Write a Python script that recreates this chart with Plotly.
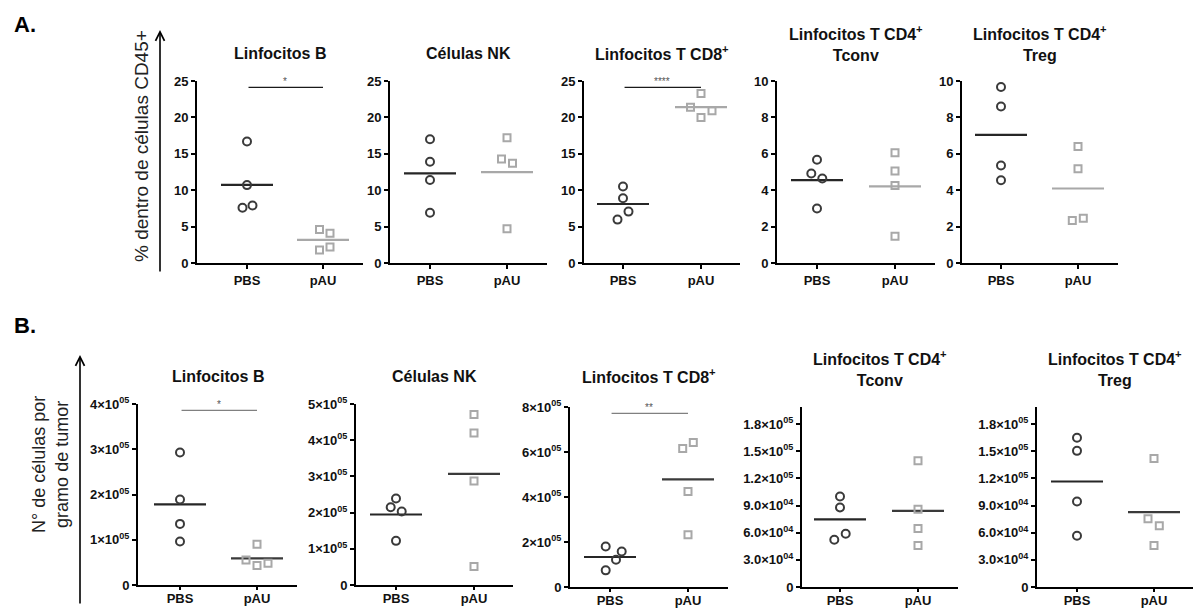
import plotly.graph_objects as go

W, H = 1194, 608
FONT = "Liberation Sans, Arial, sans-serif"

groups = ["PBS", "pAU"]

# ---- A: percentage within CD45+ cells ----
a_titles = ["Linfocitos B", "Células NK", "Linfocitos T CD8<sup>+</sup>",
            "Linfocitos T CD4<sup>+</sup><br>Tconv", "Linfocitos T CD4<sup>+</sup><br>Treg"]
a_b_pbs = [16.7, 10.7, 7.9, 7.6]
a_b_pau = [4.6, 4.1, 2.2, 1.8]
a_nk_pbs = [17.0, 13.9, 11.4, 6.9]
a_nk_pau = [17.2, 14.3, 13.7, 4.7]
a_cd8_pbs = [10.5, 8.9, 7.06, 5.96]
a_cd8_pau = [23.3, 21.4, 20.9, 20.0]
a_tconv_pbs = [5.67, 4.92, 4.64, 2.99]
a_tconv_pau = [6.06, 5.05, 4.26, 1.47]
a_treg_pbs = [9.67, 8.6, 5.36, 4.55]
a_treg_pau = [6.4, 5.18, 2.46, 2.33]
a_sig = ["*", "", "****", "", ""]
a_ymax = [25, 25, 25, 10, 10]
a_tick_step = [5, 5, 5, 2, 2]

# ---- B: cells per gram of tumour ----
b_titles = a_titles
b_b_pbs = [2.93e5, 1.89e5, 1.35e5, 0.96e5]
b_b_pau = [0.90e5, 0.55e5, 0.48e5, 0.43e5]
b_nk_pbs = [2.39e5, 2.15e5, 2.03e5, 1.22e5]
b_nk_pau = [4.71e5, 4.20e5, 2.87e5, 0.51e5]
b_cd8_pbs = [1.80e5, 1.58e5, 1.21e5, 0.74e5]
b_cd8_pau = [6.42e5, 6.16e5, 4.24e5, 2.32e5]
b_tconv_pbs = [1.00e5, 0.879e5, 0.588e5, 0.522e5]
b_tconv_pau = [1.397e5, 0.86e5, 0.647e5, 0.46e5]
b_treg_pbs = [1.65e5, 1.505e5, 0.945e5, 0.566e5]
b_treg_pau = [1.42e5, 0.754e5, 0.677e5, 0.46e5]
b_sig = ["*", "", "**", "", ""]
b_ymax = [4e5, 5e5, 8e5, 1.99e5, 1.99e5]
b_tickvals = [
    [0, 1e5, 2e5, 3e5, 4e5],
    [0, 1e5, 2e5, 3e5, 4e5, 5e5],
    [0, 2e5, 4e5, 6e5, 8e5],
    [0, 3e4, 6e4, 9e4, 1.2e5, 1.5e5, 1.8e5],
    [0, 3e4, 6e4, 9e4, 1.2e5, 1.5e5, 1.8e5],
]
b_ticktext = [
    ["0", "1×10<sup>05</sup>", "2×10<sup>05</sup>", "3×10<sup>05</sup>", "4×10<sup>05</sup>"],
    ["0", "1×10<sup>05</sup>", "2×10<sup>05</sup>", "3×10<sup>05</sup>", "4×10<sup>05</sup>", "5×10<sup>05</sup>"],
    ["0", "2×10<sup>05</sup>", "4×10<sup>05</sup>", "6×10<sup>05</sup>", "8×10<sup>05</sup>"],
    ["0", "3.0×10<sup>04</sup>", "6.0×10<sup>04</sup>", "9.0×10<sup>04</sup>",
     "1.2×10<sup>05</sup>", "1.5×10<sup>05</sup>", "1.8×10<sup>05</sup>"],
    ["0", "3.0×10<sup>04</sup>", "6.0×10<sup>04</sup>", "9.0×10<sup>04</sup>",
     "1.2×10<sup>05</sup>", "1.5×10<sup>05</sup>", "1.8×10<sup>05</sup>"],
]

# Horizontal spread (px) used to keep overlapping dots apart
a_spread = [([0, 0, 5.5, -4.5], [-3.5, 7, 7, -3.5]),
            ([0, 0, 0, 0], [0, -5.5, 5.5, 0]),
            ([0, 0, 5.5, -5.5], [0, -10.5, 11, 0]),
            ([0, -5.7, 5.3, 0], [0, 0, 0, 0]),
            ([0, 0, 0, 0], [0, 0, 5.3, -5.7])]
b_spread = [([0, 0, 0, 0], [0, -11, 11, 0]),
            ([0, -5.3, 5.7, 0], [0, 0, 0, 0]),
            ([-4.3, 11.7, 6, -4.3], [5.3, -5.3, 0, 0]),
            ([0, 0, 5.7, -5.7], [0, 0, 0, 0]),
            ([0, 0, 0, 0], [0, -6, 5.3, 0])]

a_data = [(a_b_pbs, a_b_pau), (a_nk_pbs, a_nk_pau), (a_cd8_pbs, a_cd8_pau),
          (a_tconv_pbs, a_tconv_pau), (a_treg_pbs, a_treg_pau)]
b_data = [(b_b_pbs, b_b_pau), (b_nk_pbs, b_nk_pau), (b_cd8_pbs, b_cd8_pau),
          (b_tconv_pbs, b_tconv_pau), (b_treg_pbs, b_treg_pau)]

# Pixel frame of each panel: (y-axis x, PBS x, pAU x, x-axis end, baseline y, top y)
a_frames = [(197, 247, 323, 363, 263, 81), (390, 430, 507, 547, 263, 81),
            (584, 623, 701, 740, 263, 81), (777, 817, 895, 935, 263, 81),
            (962, 1001, 1078, 1118, 263, 81)]
b_frames = [(138, 180, 257, 297, 585, 404), (356, 396, 474, 513, 585, 404),
            (570, 610, 688, 728, 587, 407), (802, 840, 918, 958, 587, 407),
            (1037, 1077, 1154, 1193, 587, 407)]

DARK = "#3a3a3a"
LIGHT = "#a8a8a8"

fig = go.Figure()
layout = dict(width=W, height=H, margin=dict(l=0, r=0, t=0, b=0),
              paper_bgcolor="white", plot_bgcolor="white", showlegend=False,
              font=dict(family=FONT, color="black"))
annotations = []

panels = []
for i in range(5):
    panels.append(dict(row="A", title=a_titles[i], data=a_data[i], spread=a_spread[i],
                       frame=a_frames[i], ymax=a_ymax[i],
                       tickvals=list(range(0, a_ymax[i] + 1, a_tick_step[i])),
                       ticktext=[str(v) for v in range(0, a_ymax[i] + 1, a_tick_step[i])],
                       sig=a_sig[i], pau_line=LIGHT, sig_color="#1a1a1a", tickfont=13,
                       xstandoff=None))
for i in range(5):
    panels.append(dict(row="B", title=b_titles[i], data=b_data[i], spread=b_spread[i],
                       frame=b_frames[i], ymax=b_ymax[i],
                       tickvals=b_tickvals[i], ticktext=b_ticktext[i],
                       sig=b_sig[i], pau_line=DARK, sig_color="#808080", tickfont=13,
                       xstandoff=-3))

for k, p in enumerate(panels):
    n = k + 1
    xa = "x" if n == 1 else f"x{n}"
    ya = "y" if n == 1 else f"y{n}"
    ax_px, pbs_px, pau_px, end_px, base_px, top_px = p["frame"]
    step = pau_px - pbs_px
    lo = 1 - (pbs_px - ax_px) / step
    hi = 2 + (end_px - pau_px) / step

    xaxis = dict(
        domain=[ax_px / W, end_px / W], range=[lo, hi], anchor=ya,
        tickvals=[1, 2], ticktext=groups, showline=True, linewidth=2, linecolor="black",
        ticks="outside", ticklen=4, tickwidth=1.5, tickcolor="black",
        showgrid=False, zeroline=False, automargin=False, fixedrange=True,
        tickfont=dict(family=FONT, size=13, color="#111", weight="bold"))
    if p["xstandoff"] is not None:
        xaxis["ticklabelstandoff"] = p["xstandoff"]
        xaxis["ticklen"] = 3
    layout["xaxis" if n == 1 else f"xaxis{n}"] = xaxis
    layout["yaxis" if n == 1 else f"yaxis{n}"] = dict(
        domain=[1 - base_px / H, 1 - top_px / H], range=[0, p["ymax"]], anchor=xa,
        tickvals=p["tickvals"], ticktext=p["ticktext"], showline=True, linewidth=2,
        linecolor="black", ticks="outside", ticklen=4, tickwidth=1.5, tickcolor="black",
        showgrid=False, zeroline=False, automargin=False, fixedrange=True,
        tickfont=dict(family=FONT, size=p["tickfont"], color="#111", weight="bold"))

    pbs_vals, pau_vals = p["data"]
    pbs_sp, pau_sp = p["spread"]
    half = 26 / step
    for gi, (vals, sp, sym, col, lcol) in enumerate([
            (pbs_vals, pbs_sp, "circle-open", DARK, "#262626"),
            (pau_vals, pau_sp, "square-open", LIGHT, p["pau_line"])]):
        cx = gi + 1
        mean = sum(vals) / len(vals)
        fig.add_trace(go.Scatter(
            x=[cx - half, cx + half], y=[mean, mean], mode="lines",
            line=dict(color=lcol, width=2.2), xaxis=xa, yaxis=ya, hoverinfo="skip"))
        fig.add_trace(go.Scatter(
            x=[cx + s / step for s in sp], y=vals, mode="markers",
            marker=dict(symbol=sym, size=8 if gi == 0 else 7,
                        color=col, line=dict(color=col, width=2)),
            xaxis=xa, yaxis=ya, cliponaxis=False))

    if p["sig"]:
        yb = p["ymax"] * 0.965
        fig.add_trace(go.Scatter(
            x=[1.02, 2.0], y=[yb, yb], mode="lines",
            line=dict(color=p["sig_color"], width=1.2), xaxis=xa, yaxis=ya, hoverinfo="skip"))
        annotations.append(dict(
            x=1.5, y=yb, xref=xa, yref=ya, text=p["sig"], showarrow=False,
            yanchor="bottom", yshift=-2,
            font=dict(family=FONT, size=10, color="#555")))

    # panel title
    two_lines = "<br>" in p["title"]
    if p["row"] == "A":
        ty = 43 if two_lines else 53
    else:
        ty = 368 if two_lines else 376
    annotations.append(dict(
        x=(ax_px + end_px) / 2 / W, y=1 - ty / H, xref="paper", yref="paper",
        text=p["title"], showarrow=False, xanchor="center", yanchor="middle",
        font=dict(family=FONT, size=16, color="#111", weight="bold")))

# Section letters
annotations.append(dict(x=12 / W, y=1 - 24 / H, xref="paper", yref="paper", text="<b>A.</b>",
                        showarrow=False, xanchor="left", yanchor="middle",
                        font=dict(family=FONT, size=22, color="black")))
annotations.append(dict(x=12 / W, y=1 - 325 / H, xref="paper", yref="paper", text="<b>B.</b>",
                        showarrow=False, xanchor="left", yanchor="middle",
                        font=dict(family=FONT, size=22, color="black")))

# Shared y-axis titles with upward arrows
annotations.append(dict(x=160 / W, y=1 - 30 / H, xref="paper", yref="paper", text="",
                        showarrow=True, ax=0, ay=243, arrowhead=5, arrowsize=1.1,
                        arrowwidth=1.6, arrowcolor="black"))
annotations.append(dict(x=142 / W, y=1 - 146 / H, xref="paper", yref="paper",
                        text="% dentro de células CD45+", textangle=-90, showarrow=False,
                        xanchor="center", yanchor="middle",
                        font=dict(family=FONT, size=19, color="#222")))
annotations.append(dict(x=80 / W, y=1 - 355 / H, xref="paper", yref="paper", text="",
                        showarrow=True, ax=0, ay=250, arrowhead=5, arrowsize=1.1,
                        arrowwidth=1.6, arrowcolor="black"))
annotations.append(dict(x=50 / W, y=1 - 465 / H, xref="paper", yref="paper",
                        text="N° de células por<br>gramo de tumor", textangle=-90,
                        showarrow=False, xanchor="center", yanchor="middle",
                        font=dict(family=FONT, size=18, color="#222")))

layout["annotations"] = annotations
fig.update_layout(**layout)
fig.write_html("out.html", config={"displayModeBar": False})
